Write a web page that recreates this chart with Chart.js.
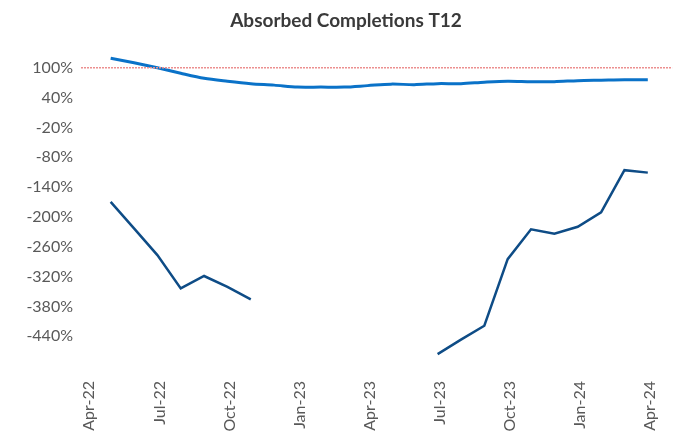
<!DOCTYPE html>
<html lang="en">
<head>
  <meta charset="UTF-8" />
  <title>Absorbed Completions T12</title>
  <script src="https://cdn.jsdelivr.net/npm/chart.js"></script>
  <style>
    body { margin: 0; background: #fff; }
    #wrap { width: 682px; height: 439px; }
  </style>
</head>
<body>
  <div id="wrap"><canvas id="absChart"></canvas></div>

  <script>
    // month axis, Apr-22 .. Apr-24 (data starts May-22)
    const months = ['Apr-22', 'May-22', 'Jun-22', 'Jul-22', 'Aug-22', 'Sep-22', 'Oct-22', 'Nov-22', 'Dec-22',
      'Jan-23', 'Feb-23', 'Mar-23', 'Apr-23', 'May-23', 'Jun-23', 'Jul-23', 'Aug-23', 'Sep-23', 'Oct-23',
      'Nov-23', 'Dec-23', 'Jan-24', 'Feb-24', 'Mar-24', 'Apr-24'];

    // light blue line (%)
    const seriesA = [null, 119, 110, 100, 89, 79, 73, 68, 65, 61, 61, 61, 64, 67, 66, 68, 68, 71, 73, 72, 72, 74, 75, 76, 76];

    // dark blue line (%), gap Dec-22 .. Jun-23
    const seriesB = [null, -170, -223, -277, -344, -319, -341, -366, null, null, null, null, null, null, null,
      -476, -447, -419, -285, -225, -234, -220, -191, -106, -111];

    const targetLine = 100;
    const yTicks = [100, 40, -20, -80, -140, -200, -260, -320, -380, -440];
    const xTickEvery = 3;

    const xMin = -0.27, xMax = 25.05;

    const toPoints = arr => arr.map((v, i) => ({ x: i, y: v }));

    new Chart(document.getElementById('absChart'), {
      type: 'line',
      data: {
        datasets: [
          {
            data: [{ x: xMin, y: targetLine }, { x: xMax, y: targetLine }],
            borderColor: '#EC8F8F',
            borderWidth: 1.5,
            borderDash: [2, 1],
            pointRadius: 0
          },
          {
            data: toPoints(seriesA),
            borderColor: '#0A72C8',
            borderWidth: 3,
            tension: 0.3,
            pointRadius: 0
          },
          {
            data: toPoints(seriesB),
            borderColor: '#0E4C86',
            borderWidth: 2.5,
            tension: 0,
            pointRadius: 0
          }
        ]
      },
      options: {
        responsive: true,
        maintainAspectRatio: false,
        animation: false,
        layout: { padding: { left: 10, right: 0, top: 0, bottom: 0 } },
        plugins: {
          legend: { display: false },
          tooltip: { enabled: false },
          title: {
            display: true,
            text: 'Absorbed Completions T12',
            color: '#3a3a3a',
            font: { family: 'Lato', size: 19, weight: 'bold' },
            padding: { top: 9.5, bottom: 5.6 }
          }
        },
        scales: {
          x: {
            type: 'linear',
            min: xMin,
            max: xMax,
            grid: { display: false, drawTicks: false },
            border: { display: false },
            afterBuildTicks: axis => {
              axis.ticks = months.map((m, i) => i).filter(i => i % xTickEvery === 0).map(i => ({ value: i }));
            },
            afterFit: axis => { axis.height = 73; },
            ticks: {
              autoSkip: false,
              minRotation: 90,
              maxRotation: 90,
              padding: 15,
              labelOffset: 2,
              color: '#595959',
              font: { family: 'Lato', size: 16 },
              callback: v => months[v]
            }
          },
          y: {
            min: -500,
            max: 160,
            grid: { display: false, drawTicks: false },
            border: { display: false },
            afterBuildTicks: axis => {
              axis.ticks = yTicks.map(v => ({ value: v }));
            },
            afterFit: axis => { axis.width = 71; },
            ticks: {
              padding: 8,
              color: '#595959',
              font: { family: 'Lato', size: 16 },
              callback: v => v + '%'
            }
          }
        }
      }
    });
  </script>
</body>
</html>
